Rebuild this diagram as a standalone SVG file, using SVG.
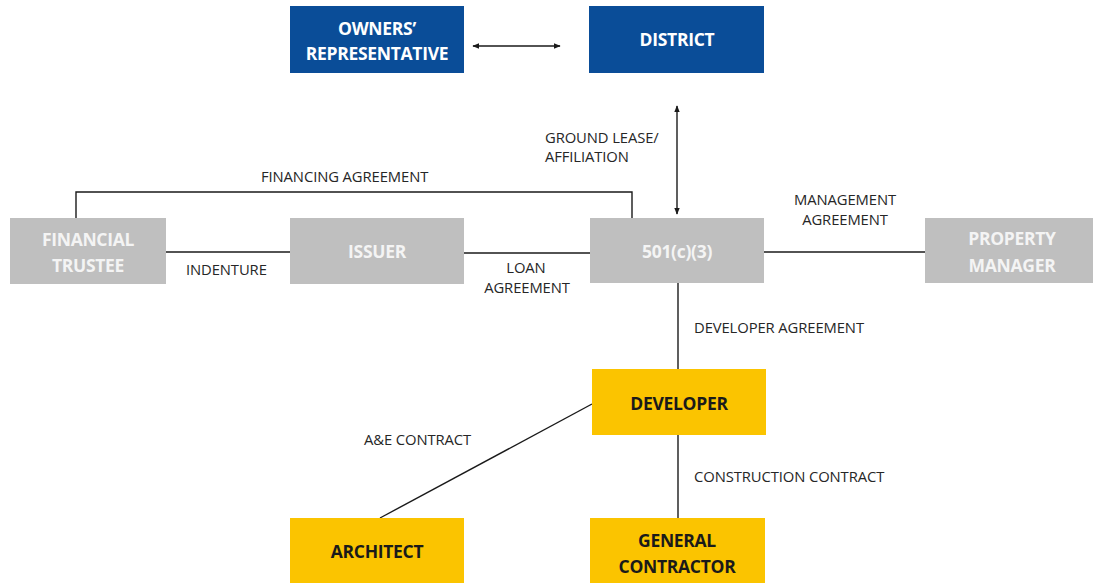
<svg xmlns="http://www.w3.org/2000/svg" width="1093" height="583" viewBox="0 0 1093 583">
  <style>
    .blue { fill: #0a4d98; }
    .gray { fill: #bfbfbf; }
    .gold { fill: #fbc400; }
    .name { font-family: "Open Sans", "Liberation Sans", sans-serif; font-weight: bold; font-size: 17.5px; text-anchor: middle; letter-spacing: -0.3px; }
    .onblue { fill: #ffffff; }
    .ongray { fill: #f4f4f4; }
    .ongold { fill: #1a1a1a; }
    .label { font-family: "Open Sans", "Liberation Sans", sans-serif; font-size: 14.8px; fill: #262626; letter-spacing: -0.1px; }
    .mid { text-anchor: middle; }
    .link { stroke: #1a1a1a; stroke-width: 1.4; fill: none; }
  </style>
  <defs>
    <marker id="head" viewBox="0 0 10 10" refX="9" refY="5" markerWidth="7" markerHeight="7" orient="auto-start-reverse" markerUnits="userSpaceOnUse">
      <path d="M0,1 L10,5 L0,9 z" fill="#1a1a1a"/>
    </marker>
  </defs>

  <rect width="1093" height="583" fill="#ffffff"/>

  <!-- connectors -->
  <g id="connectors">
    <line class="link" x1="473" y1="46" x2="560" y2="46" marker-start="url(#head)" marker-end="url(#head)"/>
    <line class="link" x1="677" y1="106" x2="677" y2="214" marker-start="url(#head)" marker-end="url(#head)"/>
    <polyline class="link" points="76,218 76,192 632,192 632,218"/>
    <line class="link" x1="166" y1="252" x2="290" y2="252"/>
    <line class="link" x1="464" y1="253" x2="590" y2="253"/>
    <line class="link" x1="764" y1="252" x2="925" y2="252"/>
    <line class="link" x1="678" y1="283" x2="678" y2="369"/>
    <line class="link" x1="678" y1="435" x2="678" y2="518"/>
    <line class="link" x1="592" y1="404" x2="380" y2="518"/>

    <text class="label" x="261" y="182">FINANCING AGREEMENT</text>
    <text class="label" x="186" y="275">INDENTURE</text>
    <text class="label mid" x="526" y="273">LOAN</text>
    <text class="label mid" x="527" y="293">AGREEMENT</text>
    <text class="label" x="545" y="143">GROUND LEASE/</text>
    <text class="label" x="545" y="162">AFFILIATION</text>
    <text class="label mid" x="845" y="205">MANAGEMENT</text>
    <text class="label mid" x="845" y="225">AGREEMENT</text>
    <text class="label" x="694" y="333">DEVELOPER AGREEMENT</text>
    <text class="label" x="364" y="445">A&amp;E CONTRACT</text>
    <text class="label" x="694" y="482">CONSTRUCTION CONTRACT</text>
  </g>

  <!-- nodes -->
  <g id="owners-representative">
    <rect class="blue" x="290" y="6" width="174" height="67"/>
    <text class="name onblue" x="377" y="35">OWNERS’</text>
    <text class="name onblue" x="377" y="60">REPRESENTATIVE</text>
  </g>
  <g id="district">
    <rect class="blue" x="589" y="6" width="175" height="67"/>
    <text class="name onblue" x="677" y="46">DISTRICT</text>
  </g>
  <g id="financial-trustee">
    <rect class="gray" x="10" y="218" width="156" height="66"/>
    <text class="name ongray" x="88" y="246">FINANCIAL</text>
    <text class="name ongray" x="88" y="272">TRUSTEE</text>
  </g>
  <g id="issuer">
    <rect class="gray" x="290" y="218" width="174" height="66"/>
    <text class="name ongray" x="377" y="258">ISSUER</text>
  </g>
  <g id="nonprofit-501c3">
    <rect class="gray" x="590" y="218" width="174" height="65"/>
    <text class="name ongray" x="677" y="258">501(c)(3)</text>
  </g>
  <g id="property-manager">
    <rect class="gray" x="925" y="218" width="174" height="65"/>
    <text class="name ongray" x="1012" y="245">PROPERTY</text>
    <text class="name ongray" x="1012" y="272">MANAGER</text>
  </g>
  <g id="developer">
    <rect class="gold" x="592" y="369" width="174" height="66"/>
    <text class="name ongold" x="679" y="410">DEVELOPER</text>
  </g>
  <g id="architect">
    <rect class="gold" x="290" y="518" width="174" height="66"/>
    <text class="name ongold" x="377" y="558">ARCHITECT</text>
  </g>
  <g id="general-contractor">
    <rect class="gold" x="590" y="518" width="175" height="66"/>
    <text class="name ongold" x="677" y="547">GENERAL</text>
    <text class="name ongold" x="677" y="573">CONTRACTOR</text>
  </g>
</svg>
